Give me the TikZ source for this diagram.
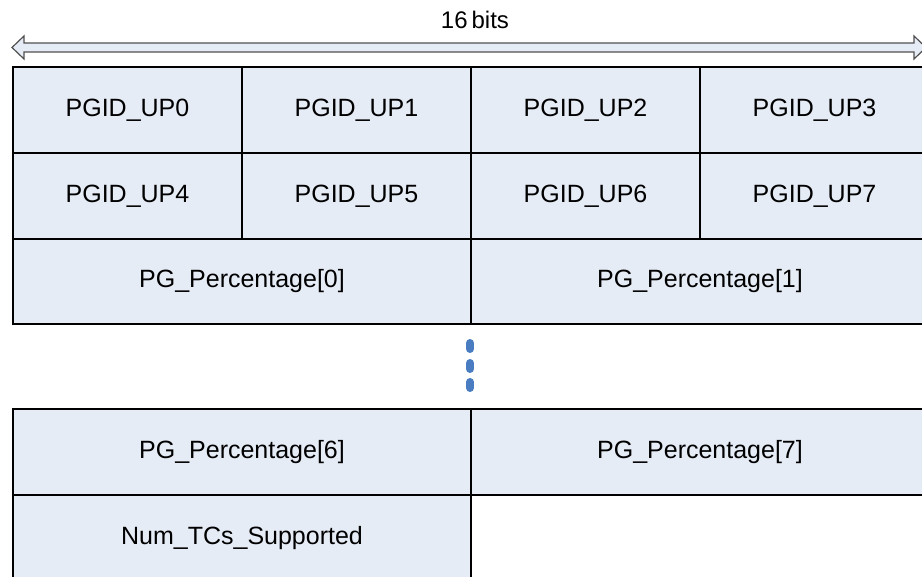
\documentclass[tikz,border=0pt]{standalone}
\usepackage{fontspec}
\setmainfont{Liberation Sans}
\definecolor{cellfill}{HTML}{E6ECF6}
\definecolor{dotblue}{HTML}{4A7CC2}
\definecolor{arrowline}{HTML}{505050}
\begin{document}
\begin{tikzpicture}[x=1pt,y=-1pt,
  font=\fontsize{25}{29}\selectfont,
  cell/.style={draw=black, line width=2pt, fill=cellfill, inner sep=0pt,
    anchor=north west, minimum height=86pt},
  quarter/.style={cell, minimum width=229pt},
  half/.style={cell, minimum width=458pt},
  spanarrow/.style={draw=arrowline, line width=1.2pt, fill=cellfill, line join=miter},
  vdots/.style={draw=dotblue, line width=8pt, line cap=round}]
\clip (0,0) rectangle (922,577);

% width indicator
\node[font=\fontsize{24}{28}\selectfont] (bits) at (475,20) {16\,bits};
\coordinate (lt) at (12,47.5);
\coordinate (rt) at (926,47.5);
\draw[spanarrow] (lt) -- ++(12,-11.5) -- ++(0,7) -- ++(890,0) -- ++(0,-7)
  -- (rt) -- ++(-12,11.5) -- ++(0,-7) -- ++(-890,0) -- ++(0,7) -- cycle;

% upper block
\node[quarter] (u0) at (12,66)  {PGID\_UP0};
\node[quarter] (u1) at (241,66) {PGID\_UP1};
\node[quarter] (u2) at (470,66) {PGID\_UP2};
\node[quarter] (u3) at (699,66) {PGID\_UP3};
\node[quarter] (u4) at (12,152)  {PGID\_UP4};
\node[quarter] (u5) at (241,152) {PGID\_UP5};
\node[quarter] (u6) at (470,152) {PGID\_UP6};
\node[quarter] (u7) at (699,152) {PGID\_UP7};
\node[half, minimum height=85pt] (p0) at (12,238)  {PG\_Percentage[0]};
\node[half, minimum height=85pt] (p1) at (470,238) {PG\_Percentage[1]};

% ellipsis
\draw[vdots] (470,343) -- (470,349);
\draw[vdots] (470,363) -- (470,369);
\draw[vdots] (470,382) -- (470,388);

% lower block
\node[half] (p6) at (12,408)  {PG\_Percentage[6]};
\node[half] (p7) at (470,408) {PG\_Percentage[7]};
\node[half] (tc) at (12,494)  {Num\_TCs\_Supported};
\end{tikzpicture}
\end{document}
